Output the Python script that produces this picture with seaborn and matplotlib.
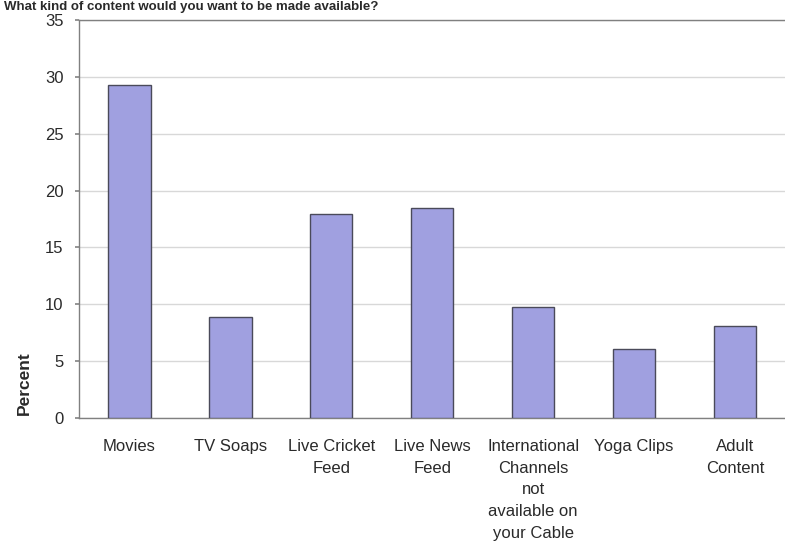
import matplotlib
matplotlib.use("Agg")
import matplotlib.pyplot as plt
import seaborn as sns
import pandas as pd
import numpy as np

categories = ["Movies", "TV Soaps", "Live Cricket\nFeed", "Live News\nFeed",
              "International\nChannels\nnot\navailable on\nyour Cable",
              "Yoga Clips", "Adult\nContent"]
percent = [29.3, 8.9, 17.9, 18.5, 9.8, 6.1, 8.1]
yticks = [0, 5, 10, 15, 20, 25, 30, 35]
title = "What kind of content would you want to be made available?"

sns.set_theme(style="white")
plt.rcParams['font.family'] = ['Liberation Sans', 'DejaVu Sans']

df = pd.DataFrame({"category": categories, "percent": percent})

fig = plt.figure(figsize=(7.85, 5.41), dpi=100)
ax = fig.add_axes([0.1006, 0.2274, 0.9, 0.7357])

sns.barplot(data=df, x="category", y="percent", ax=ax, width=0.42,
            color="#a0a0e0", saturation=1, edgecolor="#4a4a5a", linewidth=1.0,
            zorder=3)

ax.set_ylim(0, 35)
ax.set_xlim(-0.5, len(categories) - 0.5)
ax.set_yticks(yticks)
ax.set_yticklabels([str(t) for t in yticks], fontsize=12, color="#2a2a2a")
ax.yaxis.grid(True, color="#d8d8d8", linewidth=1.0, zorder=0)
ax.set_axisbelow(True)

ax.set_xticks(range(len(categories)))
ax.set_xticklabels(categories, fontsize=12, color="#2a2a2a", linespacing=1.56,
                   va="top")
ax.tick_params(axis="x", which="major", length=0, pad=15)
ax.set_xticks(np.arange(-0.5, len(categories), 1.0), minor=True)
ax.tick_params(axis="x", which="minor", length=4, color="#888888", direction="out")
ax.tick_params(axis="y", length=3, color="#888888", direction="out", left=True, pad=8)

for s in ["left", "bottom", "top"]:
    ax.spines[s].set_color("#808080")
    ax.spines[s].set_linewidth(1.0)
ax.spines["right"].set_visible(False)

ax.set_xlabel("")
ax.set_ylabel("Percent", fontsize=12.5, fontweight="bold", color="#2a2a2a")
ax.yaxis.set_label_coords(-0.067, 0.088)

fig.text(0.005, 0.999, title, fontsize=9.5, fontweight="bold", color="#2a2a2a",
         ha="left", va="top")

fig.savefig("out.png", dpi=100)
